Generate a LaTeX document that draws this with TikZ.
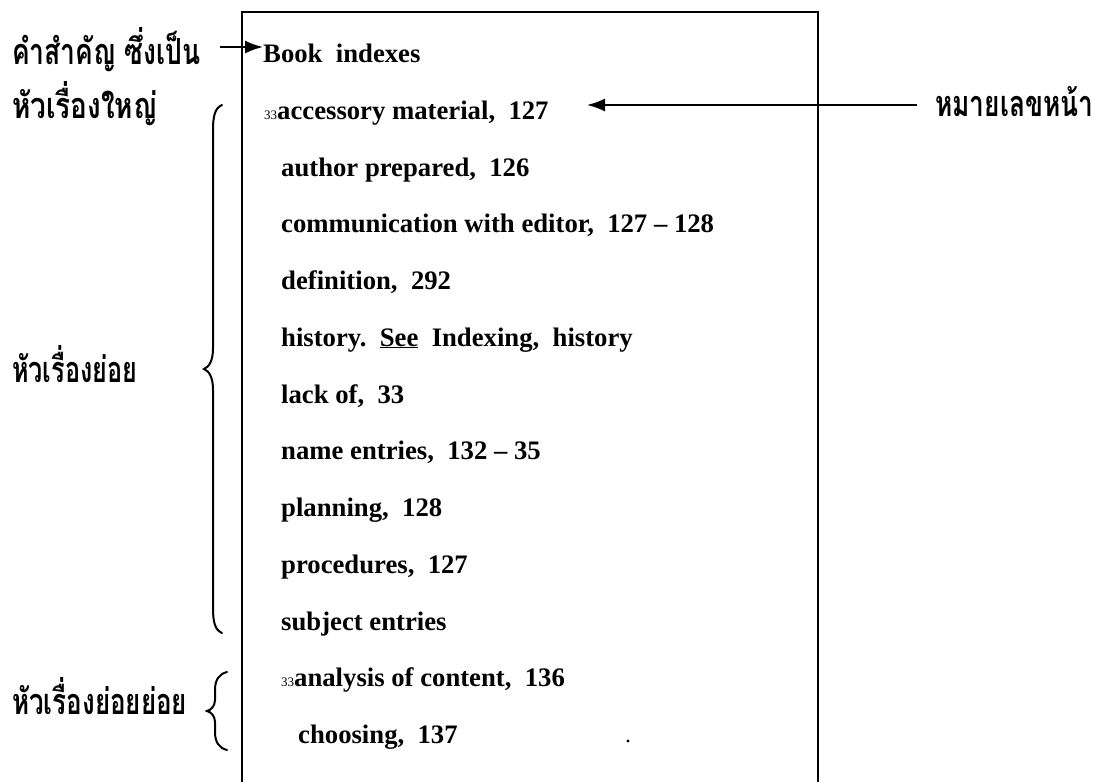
\documentclass[tikz,border=0pt]{standalone}
\usepackage{fontspec}
\setmainfont{Liberation Serif}
\newfontfamily\thai[Script=Thai]{Loma}
\usetikzlibrary{arrows.meta}
\tikzset{
  entry/.style={anchor=base west, inner sep=0pt, font=\fontsize{26.7}{30}\selectfont\bfseries},
  thailbl/.style={anchor=base west, inner sep=0pt, font=\fontsize{36}{40}\selectfont\thai\bfseries},
  boxline/.style={line width=2pt},
  bracestyle/.style={line width=2pt, line cap=round},
  arr/.style={line width=1.8pt, -{Latex[length=18pt,width=13pt]}}
}
\newcommand{\smallnum}{{\fontsize{13}{14}\selectfont\mdseries 33}}
\begin{document}
\begin{tikzpicture}[x=1pt,y=-1pt]
\useasboundingbox (0,0) rectangle (1095,782);
% box (open at the bottom)
\draw[boxline] (242,782) -- (242,12) -- (818,12) -- (818,782);
% index entries
\node[entry] (book) at (263,62) {Book\ \ indexes};
\node[entry] (acc)  at (264,119) {\smallnum accessory material,\ \ 127};
\node[entry] (auth) at (281,176) {author prepared,\ \ 126};
\node[entry] (comm) at (281,232) {communication with editor,\ \ 127 -- 128};
\node[entry] (defn) at (281,289) {definition,\ \ 292};
\node[entry] (hist) at (281,346) {history.\ \ \underline{See}\ \ Indexing,\ \ history};
\node[entry] (lack) at (281,403) {lack of,\ \ 33};
\node[entry] (name) at (281,459) {name entries,\ \ 132 -- 35};
\node[entry] (plan) at (281,516) {planning,\ \ 128};
\node[entry] (proc) at (281,573) {procedures,\ \ 127};
\node[entry] (subj) at (281,630) {subject entries};
\node[entry] (anal) at (281,686) {\smallnum analysis of content,\ \ 136};
\node[entry] (choo) at (298,743) {choosing,\ \ 137};
\fill (628,741) circle (1.6);
% Thai labels
\node[thailbl] (kw)  at (12,64)  {\resizebox{188pt}{\height}{คำสำคัญ ซึ่งเป็น}};
\node[thailbl] (kw2) at (12,118) {\resizebox{145pt}{\height}{หัวเรื่องใหญ่}};
\node[thailbl] (sub) at (12,382) {\resizebox{125pt}{\height}{หัวเรื่องย่อย}};
\node[thailbl] (ssub) at (12,714) {\resizebox{175pt}{\height}{หัวเรื่องย่อยย่อย}};
\node[thailbl] (pg)  at (935,116) {\resizebox{158pt}{\height}{หมายเลขหน้า}};
% arrows
\coordinate (ta) at (220,47);
\draw[arr] (ta) -- (book.west |- ta);
\coordinate (ra) at (917,105);
\coordinate (rb) at (587,105);
\draw[arr] (ra) -- (rb);
% big brace
\draw[bracestyle] (222,105) .. controls (215,108) and (213,116) .. (213,130)
  -- (213,348) .. controls (213,361) and (209,367) .. (204,369)
  .. controls (209,371) and (213,377) .. (213,390)
  -- (213,608) .. controls (213,622) and (215,630) .. (222,633);
% small brace
\draw[bracestyle] (227,672) .. controls (219,674) and (215,680) .. (215,690)
  -- (215,700) .. controls (215,706) and (211,710) .. (207,711)
  .. controls (211,712) and (215,716) .. (215,722)
  -- (215,732) .. controls (215,742) and (219,748) .. (227,750);
\end{tikzpicture}
\end{document}
